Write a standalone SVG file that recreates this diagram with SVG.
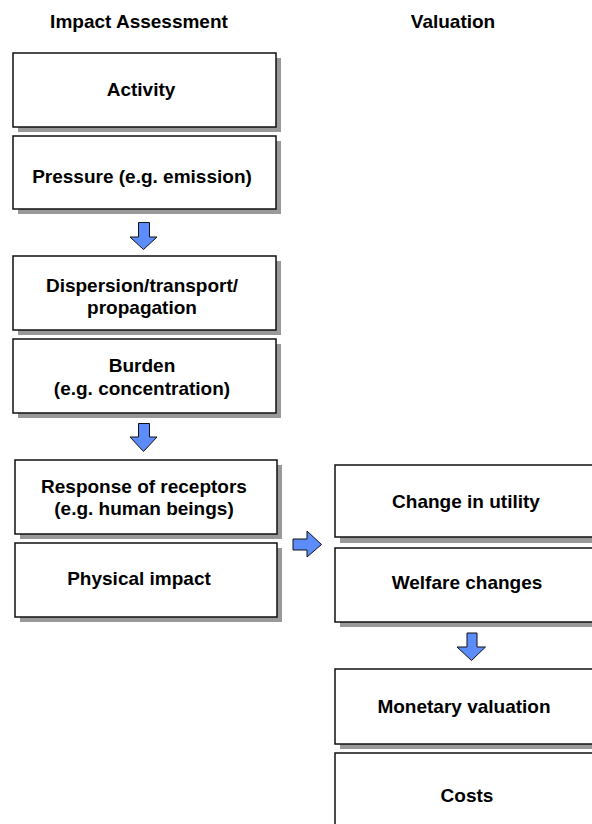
<svg xmlns="http://www.w3.org/2000/svg" width="592" height="824" viewBox="0 0 592 824">
<style>
.bg{fill:#fff}
.sh{fill:#999}
.box{fill:#fff;stroke:#111;stroke-width:1.5}
.t{font-family:"Liberation Sans",Arial,sans-serif;font-weight:bold;font-size:19px;fill:#000;text-anchor:middle}
.arr{fill:#5b8cf9;stroke:#111;stroke-width:1}
</style>
<rect class="bg" x="0" y="0" width="592" height="824"/>
<g id="headings">
<text class="t" x="139" y="28">Impact Assessment</text>
<text class="t" x="453" y="28">Valuation</text>
</g>
<g id="activity">
<rect class="sh" x="18" y="58" width="263" height="74"/>
<rect class="box" x="13" y="53" width="263" height="74"/>
<text class="t" x="141" y="96">Activity</text>
</g>
<g id="pressure">
<rect class="sh" x="18" y="141" width="263" height="73"/>
<rect class="box" x="13" y="136" width="263" height="73"/>
<text class="t" x="142" y="183">Pressure (e.g. emission)</text>
</g>
<g id="dispersion">
<rect class="sh" x="18" y="261" width="263" height="74"/>
<rect class="box" x="13" y="256" width="263" height="74"/>
<text class="t" x="142" y="292">Dispersion/transport/</text>
<text class="t" x="142" y="314">propagation</text>
</g>
<g id="burden">
<rect class="sh" x="18" y="344" width="263" height="74"/>
<rect class="box" x="13" y="339" width="263" height="74"/>
<text class="t" x="142" y="372">Burden</text>
<text class="t" x="142" y="395">(e.g. concentration)</text>
</g>
<g id="response">
<rect class="sh" x="20" y="465" width="262" height="74"/>
<rect class="box" x="15" y="460" width="262" height="74"/>
<text class="t" x="144" y="493">Response of receptors</text>
<text class="t" x="144" y="515">(e.g. human beings)</text>
</g>
<g id="physical">
<rect class="sh" x="20" y="548" width="262" height="74"/>
<rect class="box" x="15" y="543" width="262" height="74"/>
<text class="t" x="139" y="585">Physical impact</text>
</g>
<g id="utility">
<rect class="sh" x="340" y="470" width="270" height="73"/>
<rect class="box" x="335" y="465" width="270" height="72"/>
<text class="t" x="466" y="508">Change in utility</text>
</g>
<g id="welfare">
<rect class="sh" x="340" y="553" width="270" height="74"/>
<rect class="box" x="335" y="548" width="270" height="74"/>
<text class="t" x="467" y="589">Welfare changes</text>
</g>
<g id="monetary">
<rect class="sh" x="340" y="674" width="270" height="75"/>
<rect class="box" x="335" y="669" width="270" height="75"/>
<text class="t" x="464" y="713">Monetary valuation</text>
</g>
<g id="costs">
<rect class="sh" x="340" y="758" width="270" height="80"/>
<rect class="box" x="335" y="753" width="270" height="80"/>
<text class="t" x="467" y="802">Costs</text>
</g>
<g id="connectors">
<path class="arr" d="M138.5 222.5 H149.5 V237 H157 L143.5 249.5 L130 237 H138.5 Z"/>
<path class="arr" d="M138.5 423.5 H149.5 V437 H157 L143.5 451.5 L130 437 H138.5 Z"/>
<path class="arr" d="M293 539 H307 V531 L321.5 544.5 L307 557 V550 H293 Z"/>
<path class="arr" d="M467 633 H477 V647 H485.5 L471.5 660.5 L457 647 H467 Z"/>
</g>
</svg>
